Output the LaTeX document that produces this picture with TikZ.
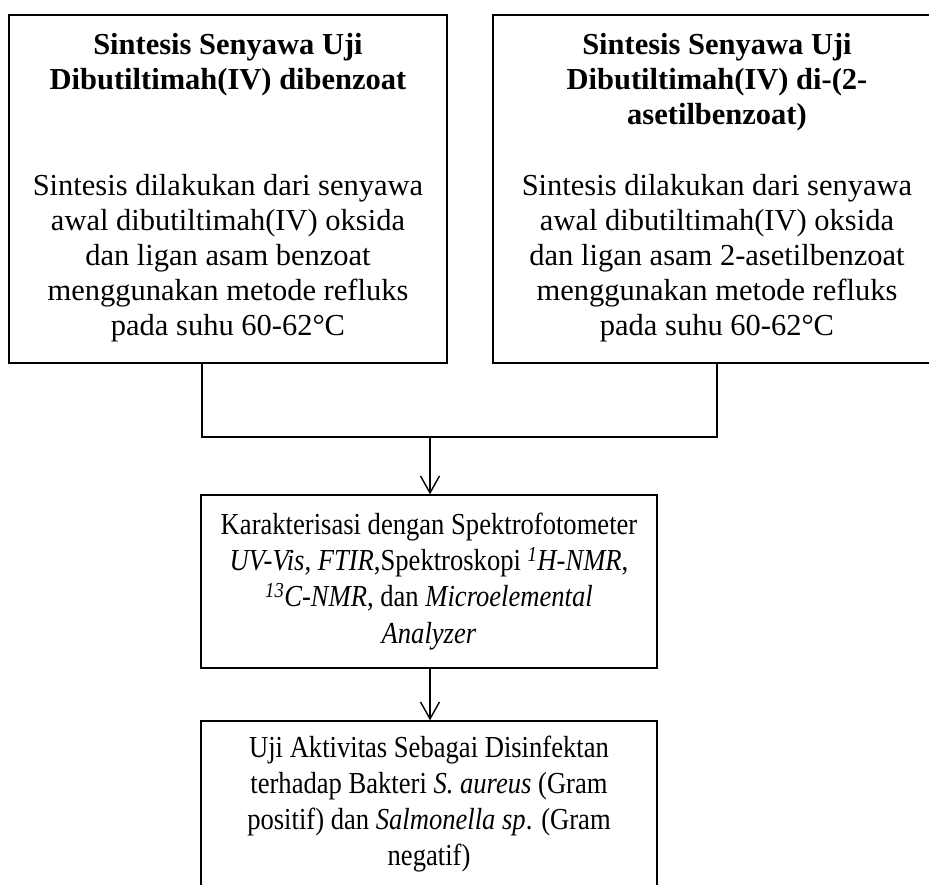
\documentclass[tikz,border=0pt]{standalone}
\usepackage{fontspec}
\setmainfont{Liberation Serif}
\newfontfamily\narrowfont{Liberation Serif}[FakeStretch=0.872]
\usetikzlibrary{arrows.meta}
\tikzset{
  box/.style={draw=black, line width=1.3pt, rectangle, inner sep=0pt},
  txt/.style={inner sep=0pt, align=center, anchor=north},
  link/.style={draw=black, line width=1.5pt},
  arr/.style={link, -{Straight Barb[length=17pt,width=19pt,line width=1.4pt]}}
}
\begin{document}
\begin{tikzpicture}[x=1pt,y=-1pt]
\useasboundingbox (0,0) rectangle (929,884);
\clip (0,0) rectangle (929,884);
% boxes
\node[box, minimum width=438pt, minimum height=348pt] (L) at (228,189) {};
\node[box, minimum width=448pt, minimum height=348pt] (R) at (717,189) {};
\node[box, minimum width=456pt, minimum height=173pt] (M) at (429,581.5) {};
\node[box, minimum width=456pt, minimum height=260pt] (B) at (429,851) {};
% texts
\node[txt, font=\fontsize{30.5}{35.2}\selectfont] (Lt) at (228,29.4)
  {\strut\textbf{Sintesis Senyawa Uji}\\
   \textbf{Dibutiltimah(IV) dibenzoat}\\[70.4pt]
   Sintesis dilakukan dari senyawa\\
   awal dibutiltimah(IV) oksida\\
   dan ligan asam benzoat\\
   menggunakan metode refluks\\
   pada suhu 60-62°C};
\node[txt, font=\fontsize{30.5}{35.2}\selectfont] (Rt) at (717,29.4)
  {\strut\textbf{Sintesis Senyawa Uji}\\
   \textbf{Dibutiltimah(IV) di-(2-}\\
   \textbf{asetilbenzoat)}\\[35.2pt]
   Sintesis dilakukan dari senyawa\\
   awal dibutiltimah(IV) oksida\\
   dan ligan asam 2-asetilbenzoat\\
   menggunakan metode refluks\\
   pada suhu 60-62°C};
\node[txt, font=\narrowfont\fontsize{30.5}{36.3}\selectfont] (Mt) at (429,508.6)
  {\strut Karakterisasi dengan Spektrofotometer\\
   \textit{UV-Vis, FTIR},Spektroskopi \textsuperscript{\textit{1}}\textit{H-NMR},\\
   \textsuperscript{\textit{13}}\textit{C-NMR}, dan \textit{Microelemental}\\
   \textit{Analyzer}};
\node[txt, font=\narrowfont\fontsize{30.5}{36}\selectfont] (Bt) at (429,731.8)
  {\strut Uji Aktivitas Sebagai Disinfektan\\
   terhadap Bakteri \textit{S. aureus} (Gram\\
   positif) dan \textit{Salmonella sp}. (Gram\\
   negatif)};
% connectors
\coordinate (J1) at (202,437);
\coordinate (J2) at (717,437);
\coordinate (J0) at (430,437);
\draw[link] (L.south -| J1) -- (J1) -- (J2) -- (R.south -| J2);
\draw[arr] (J0) -- (M.north -| J0);
\draw[arr] (M.south -| J0) -- (B.north -| J0);
\end{tikzpicture}
\end{document}
